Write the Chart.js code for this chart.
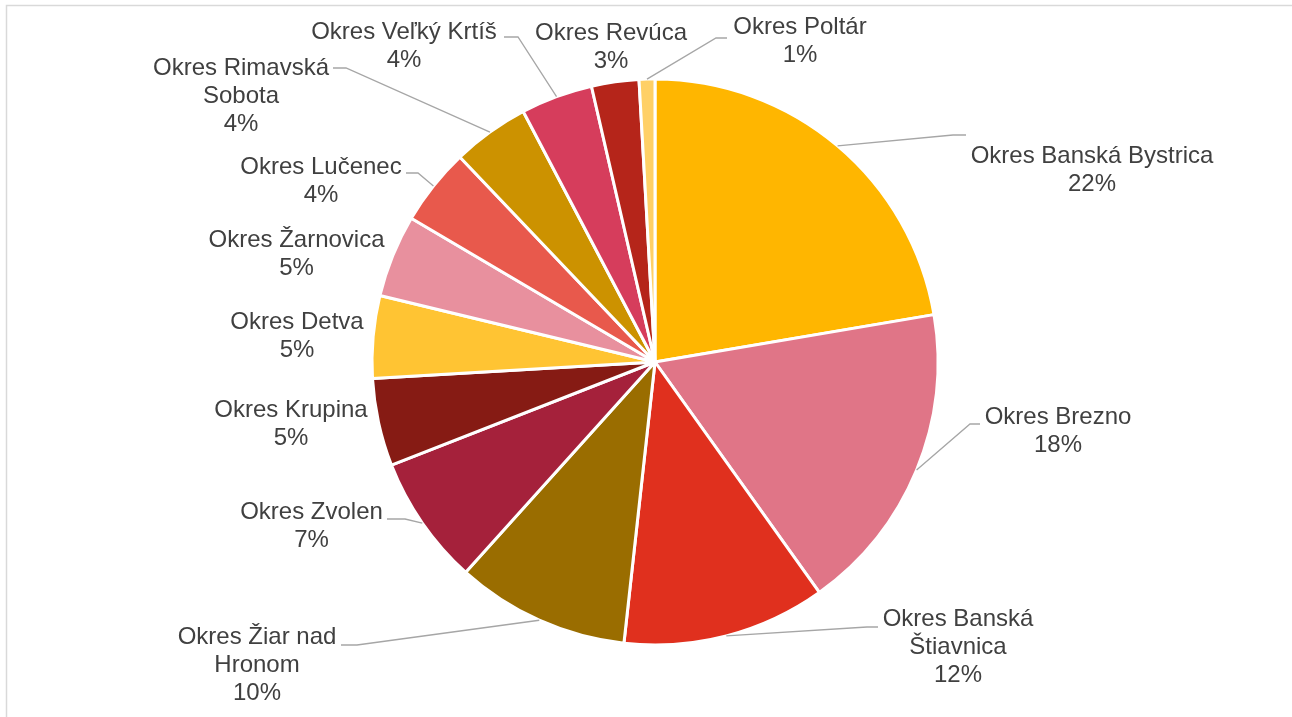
<!DOCTYPE html>
<html>
<head>
<meta charset="utf-8">
<script src="https://cdn.jsdelivr.net/npm/chart.js@4/dist/chart.umd.min.js"></script>
<style>
  html, body { margin: 0; padding: 0; background: #fff; }
  #wrap { width: 1292px; height: 717px; position: relative; }
</style>
</head>
<body>
<div id="wrap"><canvas id="c" width="1292" height="717"></canvas></div>
<script>
// ---- data ----
const categories = [
  'Okres Banská Bystrica', 'Okres Brezno', 'Okres Banská Štiavnica', 'Okres Žiar nad Hronom',
  'Okres Zvolen', 'Okres Krupina', 'Okres Detva', 'Okres Žarnovica', 'Okres Lučenec',
  'Okres Rimavská Sobota', 'Okres Veľký Krtíš', 'Okres Revúca', 'Okres Poltár'
];
const values = [22.3, 17.8, 11.6, 9.9, 7.4, 5.0, 4.7, 4.7, 4.4, 4.4, 4.1, 2.7, 0.9];
const colors = [
  '#FFB600', '#E07587', '#E0301E', '#9A6D00', '#A5213B', '#861B14', '#FFC433',
  '#E8909E', '#E8594C', '#CC9200', '#D63D5C', '#B5251A', '#FFD066'
];

// ---- label layout (offsets from pie centre, px) ----
const labelLayout = [
  { dx: 437, dy: -192, wrap: 300, elbow: [298, -227], end: [311, -227] },
  { dx: 403, dy: 69.5, wrap: 300, elbow: [315, 62], end: [325, 62] },
  { dx: 303, dy: 285.5, wrap: 200, elbow: [212, 265], end: [223, 265] },
  { dx: -398, dy: 303, wrap: 200, elbow: [-298, 283], end: [-314, 283] },
  { dx: -343.5, dy: 164.5, wrap: 300, elbow: [-250, 157], end: [-268, 157] },
  { dx: -364, dy: 62.5, wrap: 300 },
  { dx: -358, dy: -25.5, wrap: 300 },
  { dx: -358.5, dy: -108, wrap: 300 },
  { dx: -334, dy: -181, wrap: 300, elbow: [-237, -189], end: [-249, -189] },
  { dx: -414, dy: -266, wrap: 200, elbow: [-309, -294], end: [-322, -294] },
  { dx: -251, dy: -316, wrap: 300, elbow: [-137, -325], end: [-151, -325] },
  { dx: -44, dy: -314.5, wrap: 300 },
  { dx: 145, dy: -321, wrap: 300, elbow: [61, -324], end: [72, -324] }
];

const FONT = '24px "Liberation Sans", Arial, sans-serif';
const TEXT_COLOR = '#404040';
const LINE_H = 28;

function wrapText(ctx, text, maxW) {
  const words = text.split(' ');
  const lines = [];
  let cur = '';
  for (const w of words) {
    const test = cur ? cur + ' ' + w : w;
    if (cur && ctx.measureText(test).width > maxW) { lines.push(cur); cur = w; }
    else cur = test;
  }
  if (cur) lines.push(cur);
  return lines;
}

const framePlugin = {
  id: 'frame',
  beforeDraw(chart) {
    const ctx = chart.ctx;
    ctx.save();
    ctx.strokeStyle = '#D9D9D9';
    ctx.lineWidth = 1.5;
    ctx.beginPath();
    ctx.moveTo(6.5, 717);
    ctx.lineTo(6.5, 5.5);
    ctx.lineTo(1292, 5.5);
    ctx.stroke();
    ctx.restore();
  }
};

const labelPlugin = {
  id: 'pieLabels',
  afterDatasetsDraw(chart) {
    const ctx = chart.ctx;
    const meta = chart.getDatasetMeta(0);
    const data = chart.data.datasets[0].data;
    const total = data.reduce((a, b) => a + b, 0);
    ctx.save();
    ctx.font = FONT;
    meta.data.forEach((arc, i) => {
      const p = arc.getProps(['x', 'y', 'startAngle', 'endAngle', 'outerRadius'], true);
      const L = labelLayout[i];
      const mid = (p.startAngle + p.endAngle) / 2;
      if (L.elbow) {
        const sx = p.x + Math.cos(mid) * p.outerRadius;
        const sy = p.y + Math.sin(mid) * p.outerRadius;
        ctx.strokeStyle = '#A6A6A6';
        ctx.lineWidth = 1.3;
        ctx.beginPath();
        ctx.moveTo(sx, sy);
        ctx.lineTo(p.x + L.elbow[0], p.y + L.elbow[1]);
        ctx.lineTo(p.x + L.end[0], p.y + L.end[1]);
        ctx.stroke();
      }
      const lines = wrapText(ctx, chart.data.labels[i], L.wrap);
      lines.push(Math.round(data[i] / total * 100) + '%');
      ctx.fillStyle = TEXT_COLOR;
      ctx.textAlign = 'center';
      ctx.textBaseline = 'middle';
      const cx = p.x + L.dx;
      const cy = p.y + L.dy;
      const top = cy - (lines.length - 1) * LINE_H / 2;
      lines.forEach((ln, k) => ctx.fillText(ln, cx, top + k * LINE_H));
    });
    ctx.restore();
  }
};

new Chart(document.getElementById('c'), {
  type: 'pie',
  data: {
    labels: categories,
    datasets: [{
      data: values,
      backgroundColor: colors,
      borderColor: '#FFFFFF',
      borderWidth: 3,
      hoverOffset: 0
    }]
  },
  options: {
    responsive: false,
    animation: false,
    radius: 283,
    layout: { padding: { left: 18, right: 0, top: 7, bottom: 0 } },
    plugins: {
      legend: { display: false },
      tooltip: { enabled: false },
      title: { display: false }
    },
    events: []
  },
  plugins: [framePlugin, labelPlugin]
});
</script>
</body>
</html>
